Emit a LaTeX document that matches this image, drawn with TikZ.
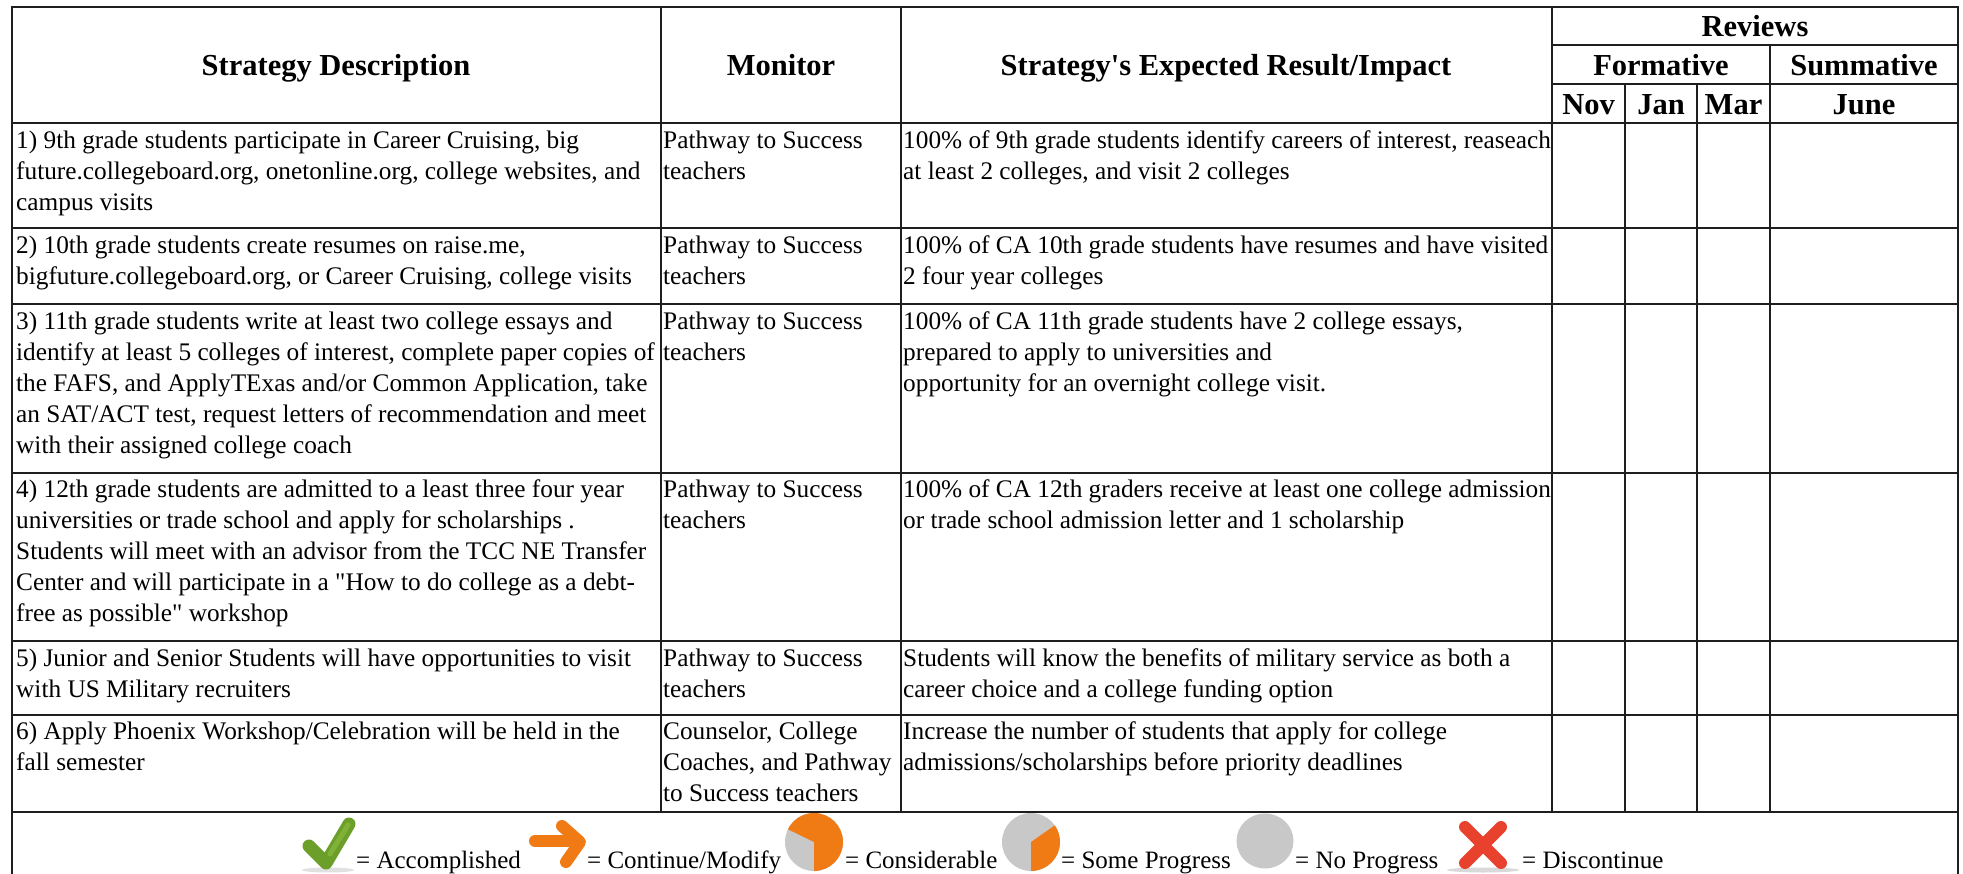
\documentclass[tikz,border=0pt]{standalone}
\usepackage{fontspec}
\setmainfont{Liberation Serif}
\newcommand\bodyf{\fontsize{25.3}{31}\selectfont}
\newcommand\headf{\fontsize{30.5}{36}\selectfont\bfseries}
\newcommand\legf{\fontsize{25}{30}\selectfont}
\definecolor{gridc}{RGB}{30,30,30}
\definecolor{chk}{RGB}{108,158,42}
\definecolor{chkl}{RGB}{140,192,64}
\definecolor{org}{RGB}{240,122,20}
\definecolor{orgl}{RGB}{248,150,50}
\definecolor{pgrey}{RGB}{200,200,200}
\definecolor{xred}{RGB}{232,66,46}
\begin{document}
\begin{tikzpicture}[x=1pt,y=-1pt,
  grid/.style={line width=2pt, draw=gridc},
  cell/.style={anchor=north west, inner sep=0pt, align=left, font=\bodyf},
  head/.style={anchor=base, inner sep=0pt, font=\headf},
  leg/.style={anchor=base west, inner sep=0pt, font=\legf}]
\useasboundingbox (0,0) rectangle (1963,874);
\fill[white] (0,0) rectangle (1963,874);
% grid
\draw[grid] (12,874) -- (12,7) -- (1958,7) -- (1958,874);
\foreach \yy in {123,228.5,304,472.5,641,715,811.5}
  \draw[grid] (12,\yy) -- (1958,\yy);
\foreach \xx in {661,901,1552}
  \draw[grid] (\xx,7) -- (\xx,811.5);
\draw[grid] (1552,45) -- (1958,45);
\draw[grid] (1552,84) -- (1958,84);
\draw[grid] (1770,45) -- (1770,811.5);
\draw[grid] (1625,84) -- (1625,811.5);
\draw[grid] (1697,84) -- (1697,811.5);
% headers
\node[head] (hsd) at (336,76) {Strategy Description};
\node[head] (hmo) at (781,76) {Monitor};
\node[head] (hre) at (1226,76) {Strategy\textquotesingle s Expected Result/Impact};
\node[head] (hrv) at (1755,37) {Reviews};
\node[head] (hfo) at (1661,76) {Formative};
\node[head] (hsu) at (1864,76) {Summative};
\node[head] (hno) at (1588.5,115) {Nov};
\node[head] (hja) at (1661,115) {Jan};
\node[head] (hma) at (1733.5,115) {Mar};
\node[head] (hju) at (1864,115) {June};
% row 1
\node[cell] (a1) at (16,127) {\strut 1) 9th grade students participate in Career Cruising, big\\future.collegeboard.org, onetonline.org, college websites, and\\campus visits};
\node[cell] (b1) at (663,127) {\strut Pathway to Success\\teachers};
\node[cell] (c1) at (903,127) {\strut 100\% of 9th grade students identify careers of interest, reaseach\\at least 2 colleges, and visit 2 colleges};
% row 2
\node[cell] (a2) at (16,232) {\strut 2) 10th grade students create resumes on raise.me,\\bigfuture.collegeboard.org, or Career Cruising, college visits};
\node[cell] (b2) at (663,232) {\strut Pathway to Success\\teachers};
\node[cell] (c2) at (903,232) {\strut 100\% of CA 10th grade students have resumes and have visited\\2 four year colleges};
% row 3
\node[cell] (a3) at (16,307.5) {\strut 3) 11th grade students write at least two college essays and\\identify at least 5 colleges of interest, complete paper copies of\\the FAFS, and ApplyTExas and/or Common Application, take\\an SAT/ACT test, request letters of recommendation and meet\\with their assigned college coach};
\node[cell] (b3) at (663,307.5) {\strut Pathway to Success\\teachers};
\node[cell] (c3) at (903,307.5) {\strut 100\% of CA 11th grade students have 2 college essays,\\prepared to apply to universities and\\opportunity for an overnight college visit.};
% row 4
\node[cell] (a4) at (16,476) {\strut 4) 12th grade students are admitted to a least three four year\\universities or trade school and apply for scholarships .\\Students will meet with an advisor from the TCC NE Transfer\\Center and will participate in a \textquotedbl How to do college as a debt-\\free as possible\textquotedbl{} workshop};
\node[cell] (b4) at (663,476) {\strut Pathway to Success\\teachers};
\node[cell] (c4) at (903,476) {\strut 100\% of CA 12th graders receive at least one college admission\\or trade school admission letter and 1 scholarship};
% row 5
\node[cell] (a5) at (16,644.5) {\strut 5) Junior and Senior Students will have opportunities to visit\\with US Military recruiters};
\node[cell] (b5) at (663,644.5) {\strut Pathway to Success\\teachers};
\node[cell] (c5) at (903,644.5) {\strut Students will know the benefits of military service as both a\\career choice and a college funding option};
% row 6
\node[cell] (a6) at (16,718) {\strut 6) Apply Phoenix Workshop/Celebration will be held in the\\fall semester};
\node[cell] (b6) at (663,718) {\strut Counselor, College\\Coaches, and Pathway\\to Success teachers};
\node[cell] (c6) at (903,718) {\strut Increase the number of students that apply for college\\admissions/scholarships before priority deadlines};
% legend icons
% check
\fill[black, opacity=0.12] (328,870) ellipse (26 and 2.5);
\draw[line width=13pt, line cap=round, line join=round, chk] (309,846) -- (326,863) -- (349,824);
\draw[line width=5pt, line cap=round, chkl, opacity=0.6] (330,854) -- (348,825);
% arrow
\draw[line width=12pt, line cap=round, line join=round, org] (535,841) -- (576,841);
\draw[line width=12pt, line cap=round, line join=round, org] (562,826) -- (580,842) -- (566,862);
% pie 1
\fill[pgrey] (814,842) circle (29);
\fill[org] (814,842) -- ++(90:29) arc (90:-154:29) -- cycle;
% pie 2
\fill[pgrey] (1031,842) circle (29);
\fill[org] (1031,842) -- ++(90:29) arc (90:-35:29) -- cycle;
% grey circle
\fill[pgrey] (1265,841) ellipse (28.5 and 27.5);
% X
\fill[black, opacity=0.15] (1483,870) ellipse (36 and 2.5);
\draw[line width=12pt, line cap=round, xred] (1465,827) -- (1501,863);
\draw[line width=12pt, line cap=round, xred] (1501,827) -- (1465,863);
% legend texts
\node[leg] (l1) at (356,868) {= Accomplished};
\node[leg] (l2) at (587,868) {= Continue/Modify};
\node[leg] (l3) at (845,868) {= Considerable};
\node[leg] (l4) at (1061,868) {= Some Progress};
\node[leg] (l5) at (1295,868) {= No Progress};
\node[leg] (l6) at (1522,868) {= Discontinue};
\end{tikzpicture}
\end{document}
